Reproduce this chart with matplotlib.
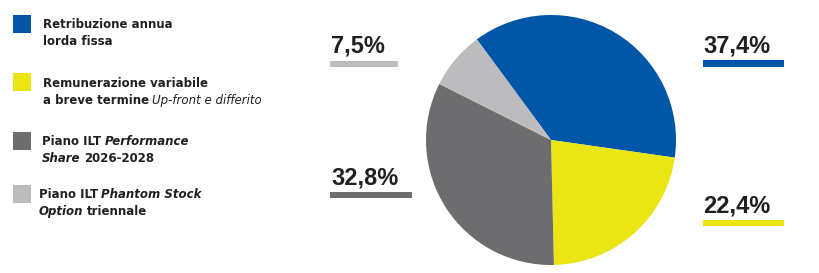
import matplotlib
matplotlib.use("Agg")
import matplotlib.pyplot as plt
from matplotlib.patches import Rectangle

# ---- data ----
categories = ["Retribuzione annua lorda fissa",
              "Remunerazione variabile a breve termine Up-front e differito",
              "Piano ILT Performance Share 2026-2028",
              "Piano ILT Phantom Stock Option triennale"]
values = [37.4, 22.4, 32.8, 7.5]
colors = ["#0057A8", "#ECE514", "#6D6D6F", "#BCBCBE"]
# legend text, split in styled pieces: (text, italic)
legend_lines = [
    [[("Retribuzione annua", False)], [("lorda fissa", False)]],
    [[("Remunerazione variabile", False)], [("a breve termine", False), (" Up-front e differito", True)]],
    [[("Piano ILT", False), (" Performance", True)], [("Share", True), (" 2026-2028", False)]],
    [[("Piano ILT", False), (" Phantom Stock", True)], [("Option", True), (" triennale", False)]],
]

W, H = 820, 273
plt.rcParams['font.family'] = ['Liberation Sans', 'DejaVu Sans']
fig = plt.figure(figsize=(W / 100, H / 100), dpi=100)
TXT = "#231F20"
LEG_FONT = ['DejaVu Sans']

def fx(x):
    return x / W

def fy(y):
    return 1 - y / H

# ---- pie ----
ax = fig.add_axes([fx(426), fy(265), 250 / W, 250 / H])
ax.pie(values, colors=colors, startangle=126.4, counterclock=False,
       radius=1, wedgeprops=dict(linewidth=0))
ax.set_xlim(-1, 1)
ax.set_ylim(-1, 1)
ax.set_aspect('equal')
ax.axis('off')

# ---- percentage labels with underline bars ----
def pct(v):
    return f"{v:.1f}".replace('.', ',') + "%"

label_pos = [  # (text x, baseline y, bar x0, bar x1, bar y0, bar y1)
    (703, 53, 703, 784, 60, 67),
    (703, 212, 703, 784, 220, 226),
    (331, 184, 330, 412, 192, 198),
    (331, 52, 330, 398, 61, 67),
]
for v, c, (tx, ty, bx0, bx1, by0, by1) in zip(values, colors, label_pos):
    fig.text(fx(tx), fy(ty), pct(v), fontsize=17, fontweight='bold',
             family=['Liberation Sans', 'DejaVu Sans'],
             color=TXT, va='baseline', ha='left')
    fig.add_artist(Rectangle((fx(bx0), fy(by1)), (bx1 - bx0) / W, (by1 - by0) / H,
                             transform=fig.transFigure, color=c, lw=0))

# ---- legend ----
renderer = fig.canvas.get_renderer()
legend_sq = [(13, 15), (13, 73), (13, 132), (13, 185)]
legend_txt = [(43, [28, 45]), (43, [87, 104]), (42, [145, 162]), (39, [198, 215])]
space = 3.2
for (sx, sy), c, (tx0, bases), lines in zip(legend_sq, colors, legend_txt, legend_lines):
    fig.add_artist(Rectangle((fx(sx), fy(sy + 18)), 18 / W, 18 / H,
                             transform=fig.transFigure, color=c, lw=0))
    for base, pieces in zip(bases, lines):
        x = tx0
        for text, italic in pieces:
            if text.startswith(' '):
                x += space
                text = text.strip()
            light = italic and text.startswith('Up')
            t = fig.text(fx(x), fy(base), text, fontsize=8.5, family=LEG_FONT,
                         fontweight='normal' if light else 'bold',
                         fontstyle='italic' if italic else 'normal',
                         color=TXT, va='baseline', ha='left')
            bb = t.get_window_extent(renderer)
            x = bb.x1

fig.savefig("out.png", dpi=100)
